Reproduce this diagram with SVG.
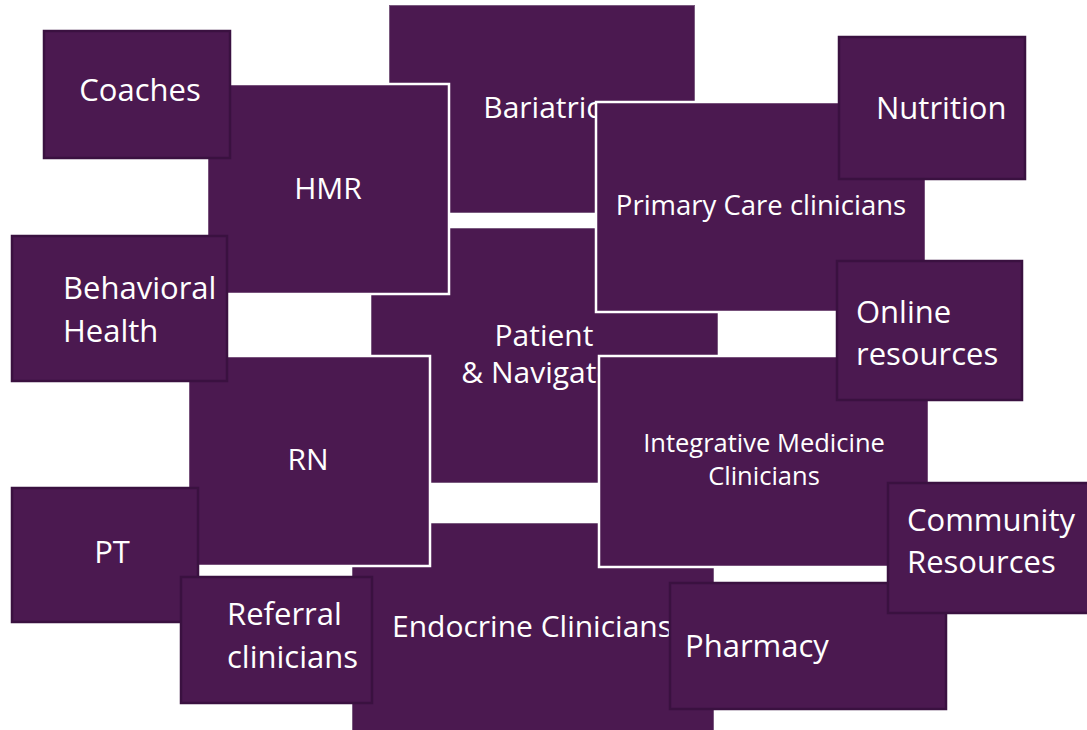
<svg xmlns="http://www.w3.org/2000/svg" width="1087" height="730" viewBox="0 0 1087 730">
  <style>
    .box { fill: #4B1950; }
    .plain { stroke: #7a5a7f; stroke-width: 1; }
    .white { stroke: #ffffff; stroke-width: 2.5; }
    .dark { stroke: #3A1140; stroke-width: 2.5; }
    text { font-family: "Open Sans", "Noto Sans", sans-serif; fill: #ffffff; }
    .lg { font-size: 31px; }
    .md { font-size: 30px; }
    .mid { text-anchor: middle; }
  </style>
  <rect width="1087" height="730" fill="#ffffff"/>

  <!-- large boxes, back to front -->
  <g id="bariatric">
    <rect class="box plain" x="389.5" y="5.5" width="305" height="207"/>
    <text class="md mid" x="542" y="118">Bariatric</text>
  </g>
  <g id="patient-navigator">
    <rect class="box plain" x="371.5" y="228.5" width="346" height="254"/>
    <text class="md mid" x="544" y="346">Patient</text>
    <text class="md mid" x="544" y="383">&amp; Navigator</text>
  </g>
  <g id="endocrine">
    <rect class="box plain" x="352.5" y="523.5" width="361" height="210"/>
    <text class="md mid" x="532" y="637">Endocrine Clinicians</text>
  </g>
  <g id="hmr">
    <rect class="box white" x="207" y="84" width="242" height="210"/>
    <text class="md mid" x="328" y="199">HMR</text>
  </g>
  <g id="rn">
    <rect class="box white" x="188" y="356" width="242" height="210"/>
    <text class="md mid" x="308" y="470">RN</text>
  </g>
  <g id="primary-care">
    <rect class="box white" x="596" y="102" width="330" height="210"/>
    <text class="mid" style="font-size:27.5px" x="761" y="215">Primary Care clinicians</text>
  </g>
  <g id="integrative-medicine">
    <rect class="box white" x="599" y="356" width="330" height="211"/>
    <text class="mid" style="font-size:25.5px" x="764" y="452">Integrative Medicine</text>
    <text class="mid" style="font-size:25.5px" x="764" y="485">Clinicians</text>
  </g>

  <!-- small boxes on top -->
  <g id="coaches">
    <rect class="box dark" x="44" y="31" width="186" height="127"/>
    <text class="lg mid" x="140" y="101">Coaches</text>
  </g>
  <g id="behavioral-health">
    <rect class="box dark" x="12" y="236" width="215" height="145"/>
    <text class="lg" x="63" y="299">Behavioral</text>
    <text class="lg" x="63" y="342">Health</text>
  </g>
  <g id="pt">
    <rect class="box dark" x="12" y="488" width="186" height="134"/>
    <text class="lg mid" x="112" y="563">PT</text>
  </g>
  <g id="referral">
    <rect class="box dark" x="181" y="577" width="191" height="126"/>
    <text class="lg" x="227" y="625">Referral</text>
    <text class="lg" x="227" y="668">clinicians</text>
  </g>
  <g id="nutrition">
    <rect class="box dark" x="839" y="37" width="186" height="142"/>
    <text class="lg" x="876" y="119">Nutrition</text>
  </g>
  <g id="online-resources">
    <rect class="box dark" x="837" y="261" width="185" height="139"/>
    <text class="lg" x="856" y="323">Online</text>
    <text class="lg" x="856" y="365">resources</text>
  </g>
  <g id="pharmacy">
    <rect class="box dark" x="670" y="583" width="276" height="126"/>
    <text class="lg" x="685" y="657">Pharmacy</text>
  </g>
  <g id="community-resources">
    <rect class="box dark" x="888" y="483" width="202" height="130"/>
    <text class="lg" x="907" y="531">Community</text>
    <text class="lg" x="907" y="573">Resources</text>
  </g>

  <!-- no connectors are drawn between the boxes -->
  <g id="connectors"/>
</svg>
